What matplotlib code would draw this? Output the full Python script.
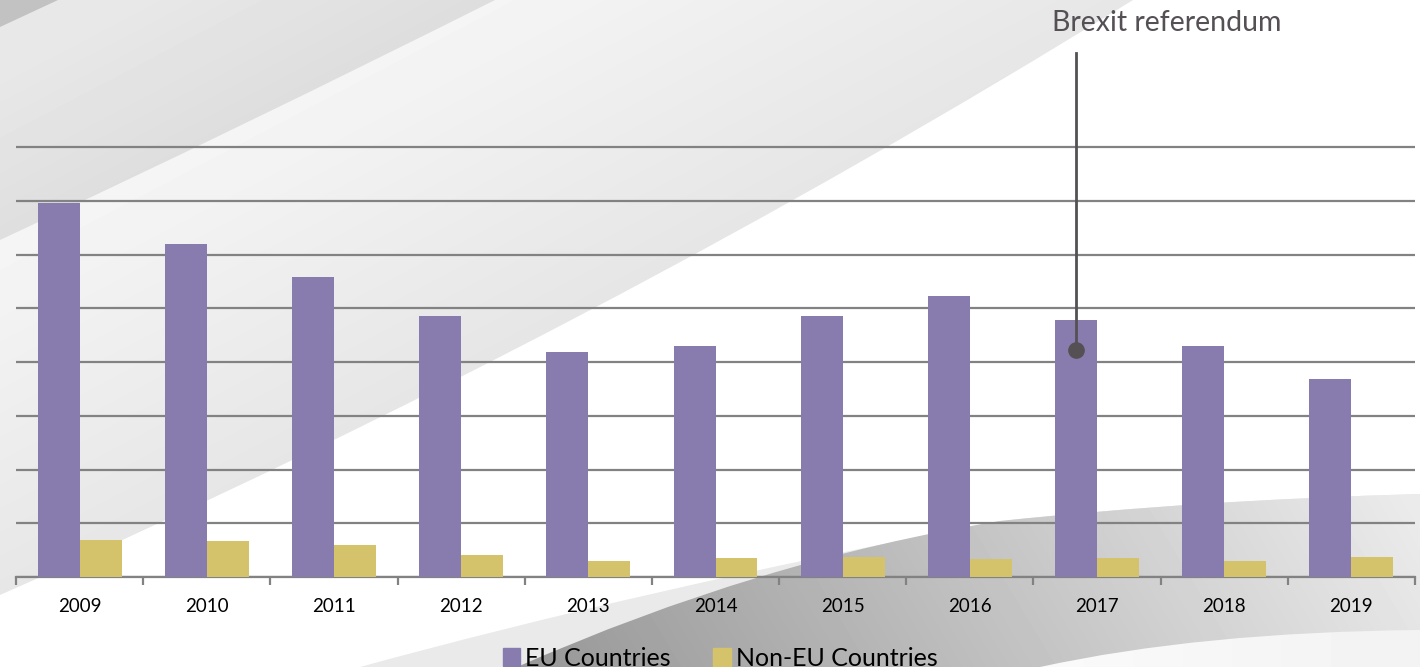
import numpy as np
import matplotlib
matplotlib.use('Agg')
from matplotlib import pyplot as plt
from matplotlib.path import Path
from matplotlib.patches import PathPatch, Patch
from matplotlib.ticker import FixedLocator

# chart data (gridline units)
years = ['2009', '2010', '2011', '2012', '2013', '2014', '2015', '2016', '2017', '2018', '2019']
eu = [6.96, 6.19, 5.58, 4.85, 4.18, 4.29, 4.85, 5.22, 4.78, 4.29, 3.68]
non_eu = [0.69, 0.67, 0.60, 0.41, 0.30, 0.35, 0.37, 0.34, 0.35, 0.30, 0.37]
event_label = 'Brexit referendum'
event_year = '2017'
event_value = 4.22

purple = '#877cad'
yellow = '#d4c36a'
grid_col = '#828282'
note_col = '#545054'

W, H = 1420, 667
fig = plt.figure(figsize=(W / 100, H / 100), dpi=100)
fig.patch.set_facecolor('white')

# ---- decorative background swooshes, in pixel coords ----
bg = fig.add_axes([0, 0, 1, 1], zorder=0)
bg.set_xlim(0, W)
bg.set_ylim(H, 0)
bg.axis('off')

X, Y = np.meshgrid(np.arange(W) + 0.5, np.arange(H) + 0.5)
s = (595 * X + 1133 * Y) / 1280.0


def shade(verts, codes, img):
    patch = PathPatch(Path(verts, codes), facecolor='none', edgecolor='none')
    bg.add_patch(patch)
    im = bg.imshow(img, extent=(0, W, H, 0), origin='upper', cmap='gray',
                   vmin=0, vmax=1, interpolation='bilinear', aspect='auto')
    im.set_clip_path(patch)


M, C, L, Z = Path.MOVETO, Path.CURVE3, Path.LINETO, Path.CLOSEPOLY

# big light swoosh top-left
shade([(0, 0), (0, 595), (600, 330), (1133, 0), (0, 0), (0, 0)],
      [M, L, C, C, L, Z],
      np.clip(0.955 - (s - 250) / 270 * 0.05, 0.9, 0.96))
# darker band
shade([(0, 0), (0, 240), (240, 128), (495, 0), (0, 0), (0, 0)],
      [M, L, C, C, L, Z],
      np.clip(0.905 - (s - 80) / 200 * 0.05, 0.85, 0.91))
# darkest corner
shade([(0, 0), (0, 27), (58, 0), (0, 0)], [M, L, L, Z],
      np.full(X.shape, 0.76))

# bottom light sliver
shade([(360, H), (640, 590), (1000, 521), (1200, 500), (1420, 494),
       (1420, H), (360, H), (360, H)],
      [M, C, C, C, C, L, L, Z],
      np.full(X.shape, 0.915))
# bottom dark band
dark = 0.62 + (X - 520) / 900 * 0.30 - (Y - 520) / 150 * 0.03
shade([(517, H), (760, 560), (1000, 521), (1200, 500), (1420, 494),
       (1420, H), (517, H), (517, H)],
      [M, C, C, C, C, L, L, Z],
      np.clip(dark, 0.6, 0.92))
# bottom white curve
shade([(1040, H), (1200, 632), (1420, 630), (1420, H), (1040, H), (1040, H)],
      [M, C, C, L, L, Z],
      np.clip(0.98 - (X - 1040) / 380 * 0.03, 0.94, 0.98))

# ---- main chart ----
unit = 53.75
ax = fig.add_axes([16 / W, 90 / H, 1399 / W, 577 / H], zorder=1)
ax.patch.set_alpha(0)

x = np.arange(len(years))
bw = 0.33
ax.bar(x - bw / 2, eu, bw, color=purple, label='EU Countries', zorder=3)
ax.bar(x + bw / 2, non_eu, bw, color=yellow, label='Non-EU Countries', zorder=3)

ax.set_xlim(-0.5, len(years) - 0.5)
ax.set_ylim(0, 577 / unit)
ax.set_yticks(range(9))
ax.yaxis.grid(True, color=grid_col, lw=1.6, zorder=1)
ax.tick_params(axis='y', length=0, labelleft=False)

ax.set_xticks(x)
ax.set_xticklabels(years, fontsize=13.5, family='Lato')
ax.tick_params(axis='x', length=0, pad=15)
ax.xaxis.set_minor_locator(FixedLocator(np.arange(-0.5, len(years), 1)))
ax.tick_params(axis='x', which='minor', length=6, width=1.6, color=grid_col)

for side in ['left', 'right', 'top']:
    ax.spines[side].set_visible(False)
ax.spines['bottom'].set_color(grid_col)
ax.spines['bottom'].set_linewidth(1.6)

# Brexit marker
ex = years.index(event_year) - bw / 2
ax.plot([ex, ex], [event_value, (577 - 53) / unit], color=note_col, lw=2,
        clip_on=False, zorder=4)
ax.plot([ex], [event_value], 'o', color=note_col, ms=11, clip_on=False, zorder=4)
ax.text(ex + 0.71, (577 - 23) / unit, event_label, fontsize=20.5, family='Lato',
        color=note_col, ha='center', va='center')

# legend
handles = [Patch(color=purple, label='EU Countries'),
           Patch(color=yellow, label='Non-EU Countries')]
fig.legend(handles=handles, loc='center', bbox_to_anchor=(720 / W, 9 / H),
           ncol=2, frameon=False, prop={'family': 'Lato', 'size': 18},
           handlelength=0.7, handleheight=0.7, handletextpad=0.2,
           columnspacing=1.7, borderpad=0)

fig.savefig('out.png', dpi=100)
